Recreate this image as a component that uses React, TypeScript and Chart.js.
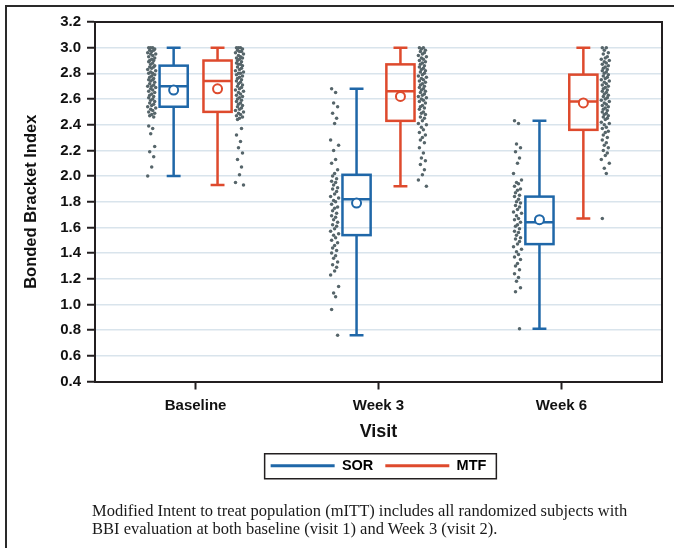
import React, { useEffect, useRef } from "react";
import { Chart, registerables } from "chart.js";

Chart.register(...registerables);

// ---------- data ----------
const VISITS = ["Baseline", "Week 3", "Week 6"];
const SERIES = ["SOR", "MTF"];
const Y_MIN = 0.4;
const Y_MAX = 3.2;
const Y_STEP = 0.2;

// box statistics per visit
const SOR_MIN = [2.0, 0.76, 0.81];
const SOR_Q1 = [2.54, 1.54, 1.47];
const SOR_MEDIAN = [2.7, 1.82, 1.64];
const SOR_MEAN = [2.67, 1.79, 1.66];
const SOR_Q3 = [2.86, 2.01, 1.84];
const SOR_MAX = [3.0, 2.68, 2.43];

const MTF_MIN = [1.93, 1.92, 1.67];
const MTF_Q1 = [2.5, 2.43, 2.36];
const MTF_MEDIAN = [2.74, 2.66, 2.58];
const MTF_MEAN = [2.68, 2.62, 2.57];
const MTF_Q3 = [2.9, 2.87, 2.79];
const MTF_MAX = [3.0, 3.0, 3.0];

// individual subject values
const BASE_SOR_DOTS = [
  3.0, 3.0, 3.0, 2.99, 2.98, 2.98, 2.97, 2.96, 2.95, 2.95, 2.94, 2.93, 2.92, 2.91, 2.9, 2.9,
  2.89, 2.88, 2.87, 2.86, 2.85, 2.85, 2.84, 2.83, 2.82, 2.81, 2.8, 2.8, 2.79, 2.78, 2.77, 2.76,
  2.75, 2.75, 2.74, 2.73, 2.72, 2.71, 2.7, 2.7, 2.69, 2.68, 2.67, 2.66, 2.65, 2.64, 2.63, 2.62,
  2.61, 2.6, 2.59, 2.58, 2.57, 2.56, 2.55, 2.54, 2.53, 2.52, 2.51, 2.5, 2.49, 2.48, 2.47, 2.46,
  2.39, 2.37, 2.33, 2.23, 2.19, 2.15, 2.07, 2.0,
];
const BASE_MTF_DOTS = [
  3.0, 3.0, 3.0, 2.99, 2.98, 2.97, 2.97, 2.96, 2.95, 2.94, 2.93, 2.92, 2.92, 2.91, 2.9, 2.89,
  2.88, 2.87, 2.87, 2.86, 2.85, 2.84, 2.83, 2.82, 2.81, 2.8, 2.8, 2.79, 2.78, 2.77, 2.76, 2.75,
  2.74, 2.73, 2.72, 2.71, 2.7, 2.69, 2.68, 2.67, 2.66, 2.65, 2.64, 2.63, 2.62, 2.61, 2.6, 2.59,
  2.58, 2.57, 2.56, 2.55, 2.54, 2.53, 2.52, 2.51, 2.5, 2.49, 2.48, 2.47, 2.46, 2.45, 2.44,
  2.37, 2.32, 2.27, 2.22, 2.18, 2.13, 2.07, 2.01, 1.95, 1.93,
];
const W3_SOR_DOTS = [
  2.68, 2.65, 2.57, 2.54, 2.49, 2.45, 2.41, 2.28, 2.24, 2.2, 2.13, 2.1, 2.05, 2.02, 2.0, 1.98,
  1.96, 1.95, 1.93, 1.91, 1.9, 1.88, 1.86, 1.84, 1.83, 1.81, 1.8, 1.78, 1.76, 1.75, 1.73, 1.71,
  1.69, 1.68, 1.66, 1.64, 1.62, 1.61, 1.59, 1.57, 1.55, 1.54, 1.52, 1.5, 1.48, 1.46, 1.44, 1.42,
  1.4, 1.38, 1.36, 1.33, 1.31, 1.29, 1.26, 1.23, 1.14, 1.09, 1.06, 0.96, 0.76,
];
const W3_MTF_DOTS = [
  3.0, 3.0, 2.99, 2.98, 2.97, 2.96, 2.95, 2.94, 2.93, 2.92, 2.91, 2.9, 2.89, 2.88, 2.87, 2.86,
  2.85, 2.84, 2.83, 2.82, 2.81, 2.8, 2.79, 2.78, 2.77, 2.76, 2.75, 2.74, 2.73, 2.72, 2.71, 2.7,
  2.69, 2.68, 2.67, 2.66, 2.65, 2.64, 2.63, 2.62, 2.61, 2.6, 2.59, 2.58, 2.57, 2.55, 2.54, 2.53,
  2.52, 2.5, 2.49, 2.48, 2.46, 2.45, 2.43, 2.41, 2.4, 2.38, 2.36, 2.34, 2.32, 2.3, 2.28, 2.26,
  2.22, 2.18, 2.14, 2.12, 2.09, 2.05, 2.01, 1.97, 1.92,
];
const W6_SOR_DOTS = [
  2.43, 2.41, 2.25, 2.22, 2.19, 2.14, 2.1, 2.02, 1.97, 1.95, 1.94, 1.92, 1.9, 1.89, 1.87, 1.85,
  1.84, 1.82, 1.8, 1.79, 1.77, 1.76, 1.74, 1.72, 1.71, 1.69, 1.67, 1.66, 1.64, 1.62, 1.61, 1.59,
  1.57, 1.56, 1.54, 1.52, 1.51, 1.49, 1.47, 1.45, 1.43, 1.41, 1.39, 1.37, 1.35, 1.32, 1.3, 1.27,
  1.24, 1.21, 1.18, 1.13, 1.1, 0.81,
];
const W6_MTF_DOTS = [
  3.0, 3.0, 2.98, 2.96, 2.95, 2.93, 2.92, 2.91, 2.9, 2.89, 2.88, 2.87, 2.86, 2.85, 2.84, 2.83,
  2.82, 2.81, 2.8, 2.79, 2.78, 2.77, 2.76, 2.75, 2.74, 2.73, 2.72, 2.71, 2.7, 2.69, 2.68, 2.67,
  2.66, 2.65, 2.64, 2.63, 2.62, 2.61, 2.6, 2.59, 2.58, 2.57, 2.56, 2.55, 2.54, 2.53, 2.52, 2.51,
  2.5, 2.49, 2.48, 2.47, 2.46, 2.45, 2.44, 2.42, 2.41, 2.4, 2.38, 2.37, 2.35, 2.34, 2.32, 2.3,
  2.28, 2.26, 2.24, 2.22, 2.2, 2.18, 2.16, 2.13, 2.1, 2.06, 2.02, 1.67,
];

const CAPTION_LINES = [
  "Modified Intent to treat population (mITT) includes all randomized subjects with",
  "BBI evaluation at both baseline (visit 1) and Week 3 (visit 2).",
];

// ---------- styles ----------
const SOR_COLOR = "#1f67a8";
const MTF_COLOR = "#de4a2d";
const SERIES_COLORS = [SOR_COLOR, MTF_COLOR];
const DOT_COLOR = "#56656a";
const AXIS_COLOR = "#231f20";
const GRID_COLOR = "#d9e4ec";
const TEXT_COLOR = "#111111";
const FONT = "'Liberation Sans', Arial, Helvetica, sans-serif";

const BOX_OFFSET = 0.12;
const BOX_HALF = 0.077;
const CAP_HALF = 0.038;
const DOT_OFFSET = 0.24;
const PX_PER_UNIT = 183;
const JITTER_PX = [-3, 1, -1, 3, -2, 2, 0, -4, 4, -1, 1, -3, 3, 0, -2, 2];

const dotData = (lists: number[][], sign: number) =>
  lists.flatMap((vals, i) =>
    vals.map((v, j) => ({
      x: i + 1 + sign * DOT_OFFSET + JITTER_PX[j % JITTER_PX.length] / PX_PER_UNIT,
      y: v,
    }))
  );

const boxGroups = [
  { color: SOR_COLOR, sign: -1, min: SOR_MIN, q1: SOR_Q1, med: SOR_MEDIAN, q3: SOR_Q3, max: SOR_MAX },
  { color: MTF_COLOR, sign: 1, min: MTF_MIN, q1: MTF_Q1, med: MTF_MEDIAN, q3: MTF_Q3, max: MTF_MAX },
];

const boxPlugin = {
  id: "boxes",
  beforeDatasetsDraw(chart: any) {
    const { ctx } = chart;
    const x = chart.scales.x;
    const y = chart.scales.y;
    ctx.save();
    ctx.lineWidth = 2.5;
    boxGroups.forEach((g) => {
      ctx.strokeStyle = g.color;
      VISITS.forEach((_, i) => {
        const c = i + 1 + g.sign * BOX_OFFSET;
        const cx = x.getPixelForValue(c);
        const xl = x.getPixelForValue(c - BOX_HALF);
        const xr = x.getPixelForValue(c + BOX_HALF);
        const cl = x.getPixelForValue(c - CAP_HALF);
        const cr = x.getPixelForValue(c + CAP_HALF);
        const yMin = y.getPixelForValue(g.min[i]);
        const yQ1 = y.getPixelForValue(g.q1[i]);
        const yMed = y.getPixelForValue(g.med[i]);
        const yQ3 = y.getPixelForValue(g.q3[i]);
        const yMax = y.getPixelForValue(g.max[i]);
        ctx.beginPath();
        ctx.moveTo(cx, yQ3);
        ctx.lineTo(cx, yMax);
        ctx.moveTo(cl, yMax);
        ctx.lineTo(cr, yMax);
        ctx.moveTo(cx, yQ1);
        ctx.lineTo(cx, yMin);
        ctx.moveTo(cl, yMin);
        ctx.lineTo(cr, yMin);
        ctx.moveTo(xl, yMed);
        ctx.lineTo(xr, yMed);
        ctx.stroke();
        ctx.strokeRect(xl, yQ3, xr - xl, yQ1 - yQ3);
      });
    });
    ctx.restore();
  },
  afterDraw(chart: any) {
    const { ctx, chartArea: a } = chart;
    ctx.save();
    ctx.strokeStyle = AXIS_COLOR;
    ctx.lineWidth = 2;
    ctx.beginPath();
    ctx.moveTo(a.left, a.top);
    ctx.lineTo(a.right, a.top);
    ctx.lineTo(a.right, a.bottom);
    ctx.stroke();
    const lg = chart.legend;
    if (lg && lg.legendHitBoxes && lg.legendHitBoxes.length) {
      const hb = lg.legendHitBoxes;
      const l = Math.min(...hb.map((h: any) => h.left)) - 6;
      const r = Math.max(...hb.map((h: any) => h.left + h.width)) + 10;
      const cy = hb[0].top + hb[0].height / 2;
      ctx.lineWidth = 1.5;
      ctx.strokeRect(l, cy - 12, r - l, 25);
    }
    ctx.restore();
  },
};

export default function App() {
  const ref = useRef<HTMLCanvasElement | null>(null);

  useEffect(() => {
    if (!ref.current) return;
    const chart = new Chart(ref.current, {
      type: "scatter",
      data: {
        datasets: [
          {
            label: "SOR subjects",
            data: dotData([BASE_SOR_DOTS, W3_SOR_DOTS, W6_SOR_DOTS], -1),
            pointRadius: 1.75,
            pointBorderWidth: 0,
            pointBackgroundColor: DOT_COLOR,
          },
          {
            label: "MTF subjects",
            data: dotData([BASE_MTF_DOTS, W3_MTF_DOTS, W6_MTF_DOTS], 1),
            pointRadius: 1.75,
            pointBorderWidth: 0,
            pointBackgroundColor: DOT_COLOR,
          },
          {
            label: "SOR mean",
            data: SOR_MEAN.map((m, i) => ({ x: i + 1 - BOX_OFFSET, y: m })),
            pointRadius: 4.5,
            pointBorderWidth: 2,
            pointBorderColor: SOR_COLOR,
            pointBackgroundColor: "#ffffff",
          },
          {
            label: "MTF mean",
            data: MTF_MEAN.map((m, i) => ({ x: i + 1 + BOX_OFFSET, y: m })),
            pointRadius: 4.5,
            pointBorderWidth: 2,
            pointBorderColor: MTF_COLOR,
            pointBackgroundColor: "#ffffff",
          },
        ] as any,
      },
      options: {
        responsive: false,
        animation: false,
        events: [],
        layout: { padding: { left: 19, top: 22, right: 12, bottom: 65 } },
        scales: {
          x: {
            type: "linear",
            min: 0.45,
            max: 3.55,
            afterBuildTicks: (s: any) => {
              s.ticks = VISITS.map((_, i) => ({ value: i + 1 }));
            },
            afterFit: (s: any) => {
              s.height = 65;
            },
            ticks: {
              autoSkip: false,
              maxRotation: 0,
              padding: 7,
              color: TEXT_COLOR,
              font: { family: FONT, size: 15, weight: "bold" },
              callback: (v: any) => VISITS[Math.round(Number(v)) - 1] ?? "",
            },
            grid: {
              drawOnChartArea: false,
              drawTicks: true,
              tickLength: 8,
              tickColor: AXIS_COLOR,
              tickWidth: 2,
            },
            border: { display: true, color: AXIS_COLOR, width: 2 },
            title: {
              display: true,
              text: "Visit",
              color: TEXT_COLOR,
              font: { family: FONT, size: 18, weight: "bold" },
              padding: { top: 0, bottom: 4 },
            },
          },
          y: {
            type: "linear",
            min: Y_MIN,
            max: Y_MAX,
            afterFit: (s: any) => {
              s.width = 76;
            },
            ticks: {
              stepSize: Y_STEP,
              padding: 6,
              color: TEXT_COLOR,
              font: { family: FONT, size: 15, weight: "bold" },
              callback: (v: any) => Number(v).toFixed(1),
            },
            grid: {
              color: GRID_COLOR,
              lineWidth: 1.5,
              tickColor: AXIS_COLOR,
              tickLength: 8,
              tickWidth: 2,
            },
            border: { display: true, color: AXIS_COLOR, width: 2 },
            title: {
              display: true,
              text: "Bonded Bracket Index",
              color: TEXT_COLOR,
              font: { family: FONT, size: 16.5, weight: "bold" },
              padding: { top: 3, bottom: 0 },
            },
          },
        },
        plugins: {
          legend: {
            position: "bottom",
            fullSize: false,
            labels: {
              boxWidth: 64,
              boxHeight: 3,
              padding: 12,
              color: TEXT_COLOR,
              font: { family: FONT, size: 14.5, weight: "bold" },
              generateLabels: () =>
                SERIES.map((s, i) => ({
                  text: s,
                  fillStyle: SERIES_COLORS[i],
                  strokeStyle: SERIES_COLORS[i],
                  lineWidth: 0,
                  hidden: false,
                  datasetIndex: i,
                })),
            },
          },
          tooltip: { enabled: false },
        },
      } as any,
      plugins: [boxPlugin],
    });
    return () => chart.destroy();
  }, []);

  return (
    <div
      style={{
        position: "absolute",
        left: 0,
        top: 0,
        width: 674,
        height: 548,
        overflow: "hidden",
        background: "#ffffff",
      }}
    >
      <div
        style={{
          position: "absolute",
          left: 5,
          top: 5,
          width: 700,
          height: 600,
          borderLeft: "2px solid #2a2a2a",
          borderTop: "2px solid #2a2a2a",
        }}
      />
      <canvas
        ref={ref}
        width={674}
        height={548}
        style={{ position: "absolute", left: 0, top: 0, width: 674, height: 548 }}
      />
      <div
        style={{
          position: "absolute",
          left: 92,
          top: 502,
          fontFamily: "'Liberation Serif', 'Times New Roman', serif",
          fontSize: 16.5,
          lineHeight: "18px",
          color: "#1a1a1a",
          whiteSpace: "nowrap",
        }}
      >
        {CAPTION_LINES.map((t, i) => (
          <div key={i}>{t}</div>
        ))}
      </div>
    </div>
  );
}
